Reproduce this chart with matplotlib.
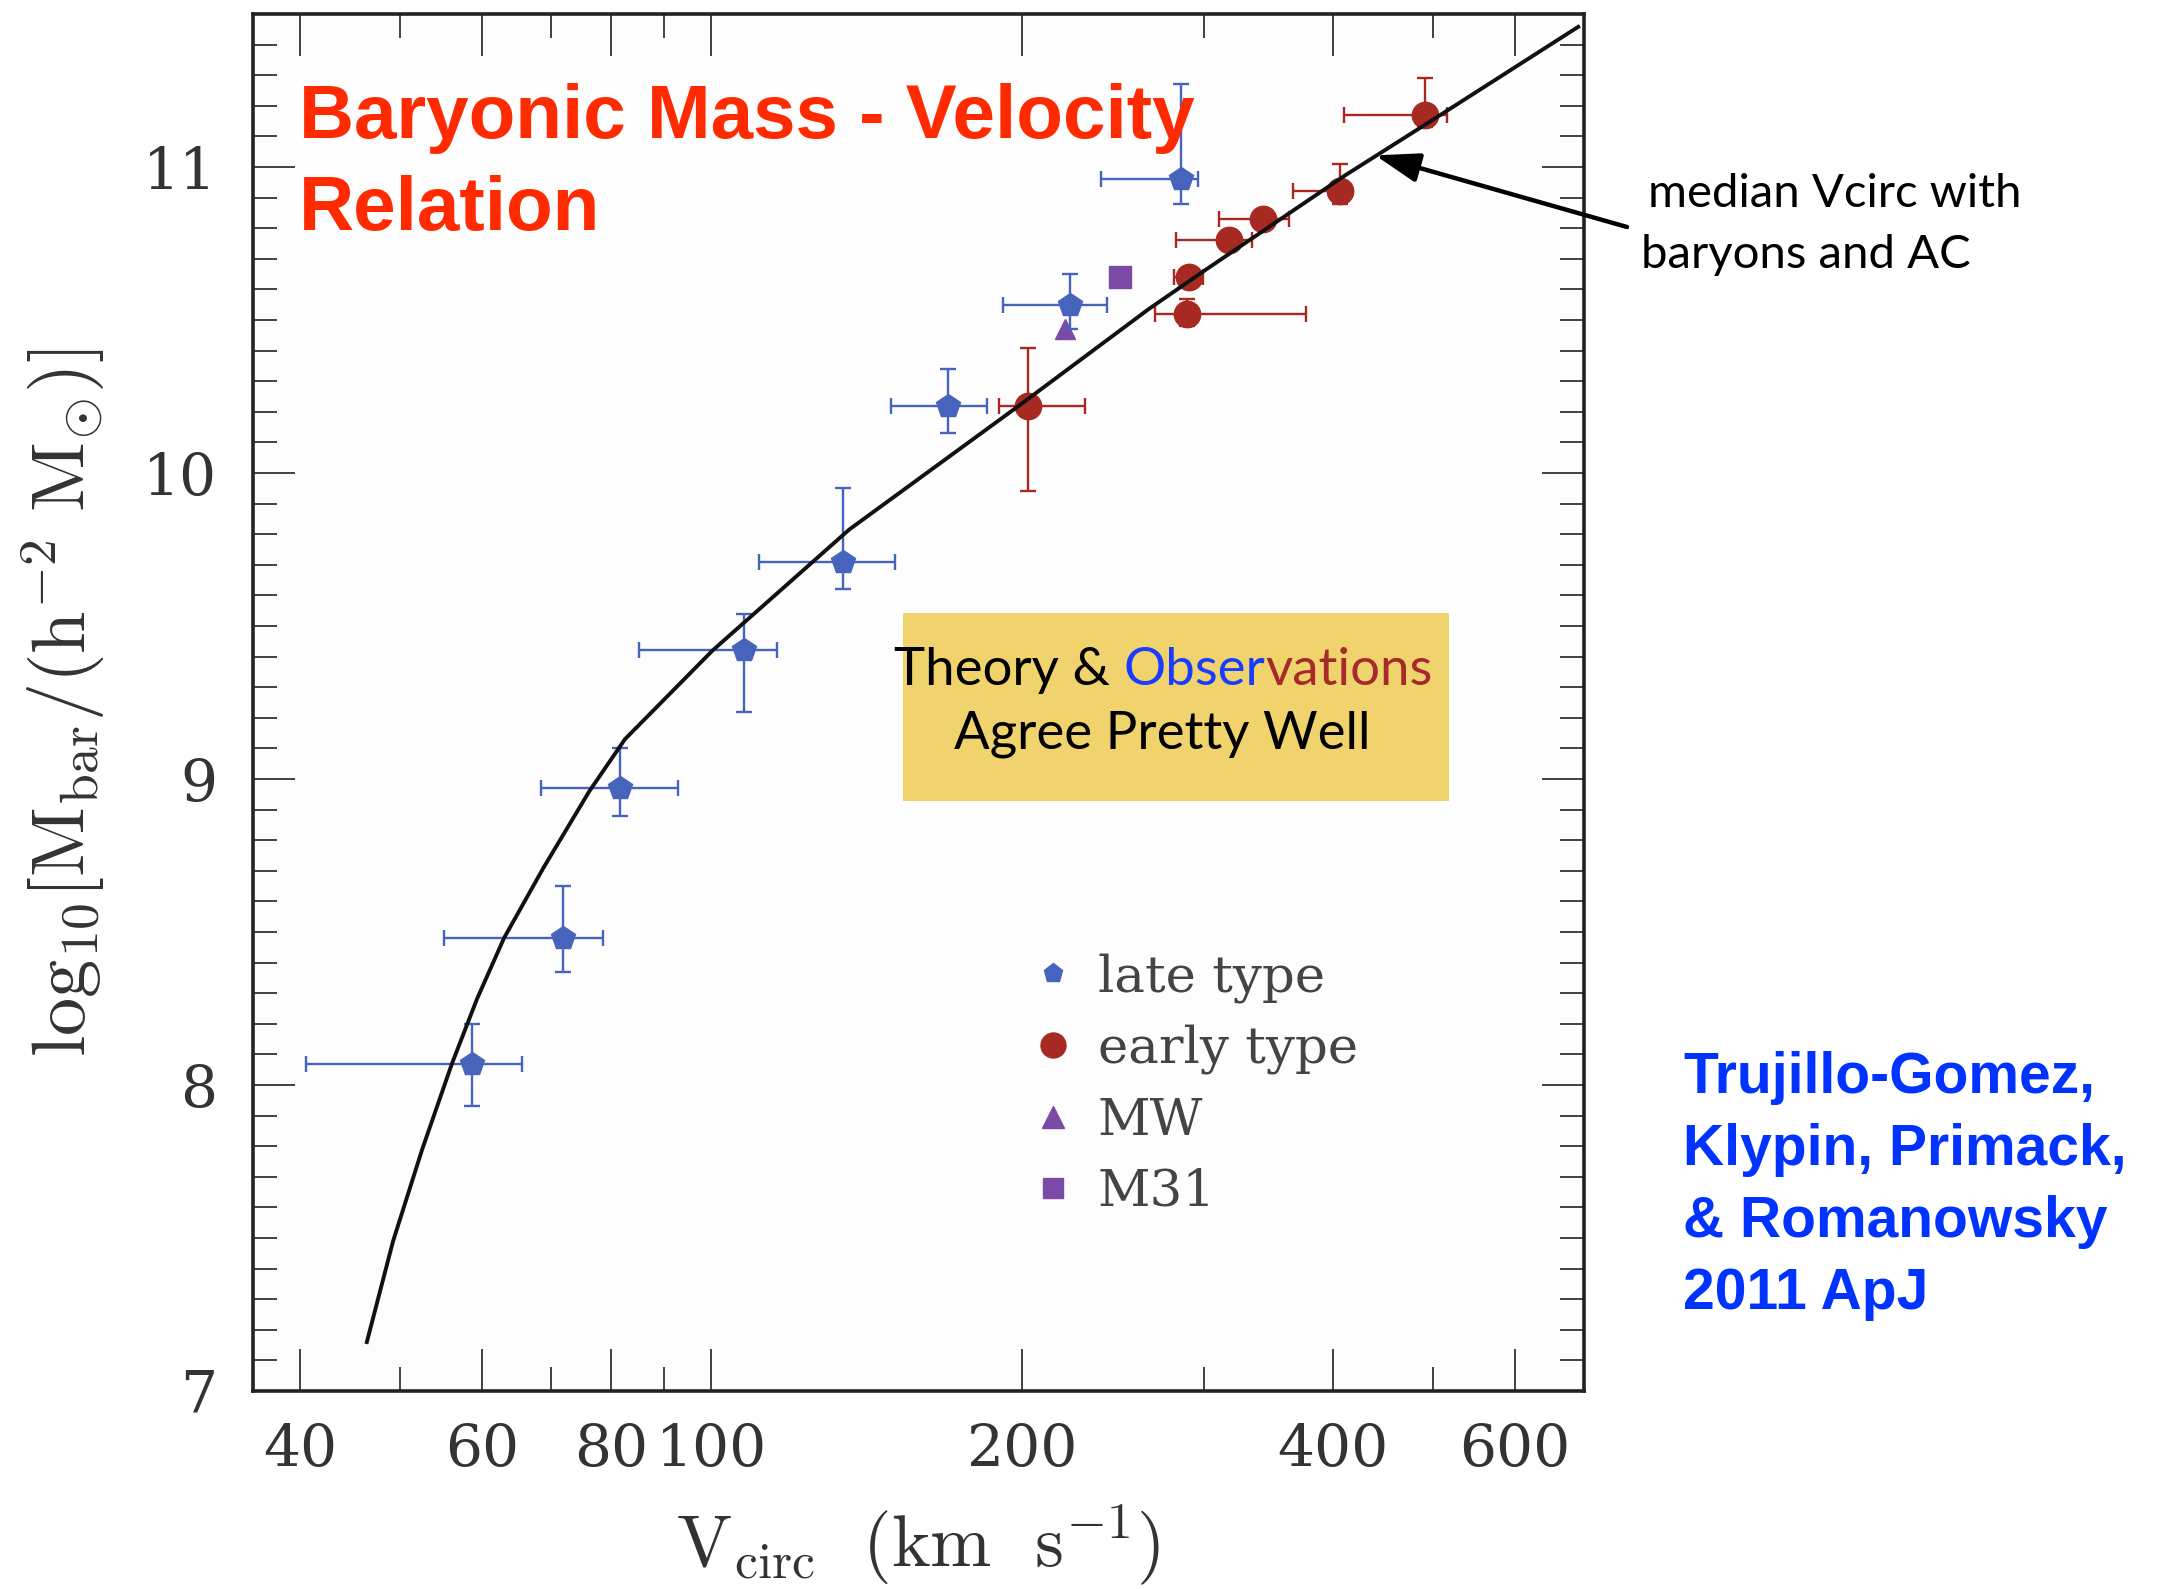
import numpy as np
import matplotlib
matplotlib.use("Agg")
import matplotlib.pyplot as plt
from matplotlib.lines import Line2D
from matplotlib.patches import Rectangle
from matplotlib.text import Annotation
from matplotlib.ticker import FixedLocator, FixedFormatter, NullFormatter

W, H = 2159, 1589

# theory curve: median Vcirc with baryons and AC
curve_v = [46.4, 49.2, 52.5, 56.1, 59.3, 63.0, 68.8, 76.2, 82.5, 100.3,
           136.0, 198.6, 265.3, 298.7, 411.1, 498.5, 691.0]
curve_m = [7.16, 7.49, 7.79, 8.07, 8.28, 8.48, 8.71, 8.96, 9.13, 9.42,
           9.815, 10.22, 10.536, 10.656, 10.973, 11.152, 11.458]

# late type galaxies
late_v    = [58.7, 71.9, 81.6, 107.5, 134.3, 169.6, 222.4, 285.3]
late_v_lo = [40.5, 55.1, 68.4, 85.1, 111.3, 149.2, 191.7, 238.7]
late_v_hi = [65.6, 78.6, 92.8, 115.7, 150.8, 185.1, 241.6, 295.9]
late_m    = [8.07, 8.48, 8.97, 9.42, 9.71, 10.22, 10.55, 10.96]
late_m_lo = [7.93, 8.37, 8.88, 9.22, 9.62, 10.13, 10.47, 10.88]
late_m_hi = [8.20, 8.65, 9.10, 9.54, 9.95, 10.34, 10.65, 11.27]

# early type galaxies
early_v    = [202.7, 289.1, 290.4, 316.9, 341.9, 406.4, 491.1]
early_v_lo = [190.0, 268.7, 280.7, 281.7, 310.4, 366.0, 410.1]
early_v_hi = [230.1, 377.0, 299.2, 334.1, 362.5, 416.5, 515.5]
early_m    = [10.22, 10.52, 10.64, 10.76, 10.83, 10.92, 11.17]
early_m_lo = [9.94, 10.48, 10.61, 10.74, 10.81, 10.88, 11.13]
early_m_hi = [10.41, 10.57, 10.67, 10.79, 10.85, 11.01, 11.29]

mw_v, mw_m = [220.1], [10.47]
m31_v, m31_m = [248.9], [10.64]

x_major = [40, 60, 80, 100, 200, 400, 600]
x_major_labels = ["40", "60", "80", "100", "200", "400", "600"]
x_minor = [50, 70, 90, 300, 500]
y_major = [7, 8, 9, 10, 11]

citation = ["Trujillo-Gomez,", "Klypin, Primack,", "& Romanowsky", "2011 ApJ"]

BLUE = "#4764bd"
RED = "#a62a22"
PURPLE = "#7b4aa6"


def px(x, y):
    return x / W, 1 - y / H


plt.rcParams["mathtext.fontset"] = "cm"

fig = plt.figure(figsize=(W / 100, H / 100), dpi=100)
fig.patch.set_facecolor("white")
ax = fig.add_axes([253 / W, 1 - 1391 / H, (1584 - 253) / W, (1391 - 14) / H])
ax.set_facecolor("#fdfdfd")

late_xerr = [np.subtract(late_v, late_v_lo), np.subtract(late_v_hi, late_v)]
late_yerr = [np.subtract(late_m, late_m_lo), np.subtract(late_m_hi, late_m)]
early_xerr = [np.subtract(early_v, early_v_lo), np.subtract(early_v_hi, early_v)]
early_yerr = [np.subtract(early_m, early_m_lo), np.subtract(early_m_hi, early_m)]

ax.errorbar(late_v, late_m, xerr=late_xerr, yerr=late_yerr, fmt="p", color=BLUE,
            ms=18, elinewidth=1.7, capsize=6, capthick=1.7, zorder=3)
ax.errorbar(early_v, early_m, xerr=early_xerr, yerr=early_yerr, fmt="o", color=RED,
            ms=19, elinewidth=1.7, capsize=6, capthick=1.7, zorder=3)
ax.plot(mw_v, mw_m, "^", color=PURPLE, ms=15, zorder=2)
ax.plot(m31_v, m31_m, "s", color=PURPLE, ms=16, zorder=3)
ax.plot(curve_v, curve_m, color="#111111", lw=2.8, zorder=4)

ax.set_xscale("log")
ax.set_xlim(36, 700)
ax.set_ylim(7, 11.5)

ax.xaxis.set_major_locator(FixedLocator(x_major))
ax.xaxis.set_major_formatter(FixedFormatter(x_major_labels))
ax.xaxis.set_minor_locator(FixedLocator(x_minor))
ax.xaxis.set_minor_formatter(NullFormatter())
ax.yaxis.set_major_locator(FixedLocator(y_major))
ax.yaxis.set_minor_locator(FixedLocator(np.arange(7, 11.51, 0.1)))

ax.tick_params(which="both", direction="in", top=True, right=True,
               colors="#222222", labelcolor="#333333")
ax.tick_params(which="major", length=30, width=1.2, labelsize=42)
ax.tick_params(which="minor", length=17, width=1.2)
ax.tick_params(axis="y", which="major", pad=26)
ax.tick_params(axis="x", which="major", pad=22)
for lab in ax.get_xticklabels() + ax.get_yticklabels():
    lab.set_family("DejaVu Serif")
for s in ax.spines.values():
    s.set_linewidth(2.6)
    s.set_color("#222222")

ax.set_xlabel(r"$\mathrm{V}_{\mathrm{circ}}\ \ (\mathrm{km\ \ s}^{-1})$",
              fontsize=53, color="#333333", labelpad=18)
ax.set_ylabel(r"$\mathrm{log}_{10}[\mathrm{M}_{\mathrm{bar}}/(\mathrm{h}^{-2}\ \mathrm{M}_{\odot})]$",
              fontsize=55, color="#333333", labelpad=26)

handles = [
    Line2D([], [], ls="none", marker="p", ms=14, color=BLUE),
    Line2D([], [], ls="none", marker="o", ms=18, color=RED),
    Line2D([], [], ls="none", marker="^", ms=16, color=PURPLE),
    Line2D([], [], ls="none", marker="s", ms=15, color=PURPLE),
]
leg = ax.legend(handles, ["late type", "early type", "MW", "M31"],
                loc="upper left", bbox_to_anchor=px(1032, 953),
                bbox_transform=fig.transFigure, frameon=False, borderpad=0,
                borderaxespad=0, handlelength=0.8, handletextpad=0.48,
                labelspacing=0.42, prop={"family": "DejaVu Serif", "size": 37})
for t in leg.get_texts():
    t.set_color("#444444")

# title inside the plot
fig.text(*px(299, 138), "Baryonic Mass - Velocity", color="#ff2a00", fontsize=55,
         fontweight="bold", family="Liberation Sans", va="baseline")
fig.text(*px(299, 230), "Relation", color="#ff2a00", fontsize=55,
         fontweight="bold", family="Liberation Sans", va="baseline")

# yellow box
fig.add_artist(Rectangle(px(903, 801), (1449 - 903) / W, (801 - 613) / H,
                         transform=fig.transFigure, facecolor="#f1d36e",
                         edgecolor="none", zorder=5))
t1 = fig.text(*px(894, 685), "Theory & ", color="black", fontsize=38,
              family="Lato", va="baseline", zorder=6)
t2 = Annotation("Obser", xy=(1, 0), xycoords=t1, va="bottom", ha="left",
                color="#1a3cff", fontsize=38, family="Lato", zorder=6)
fig.add_artist(t2)
t3 = Annotation("vations", xy=(1, 0), xycoords=t2, va="bottom", ha="left",
                color="#a52a2a", fontsize=38, family="Lato", zorder=6)
fig.add_artist(t3)
fig.text(*px(1162, 748), "Agree Pretty Well", color="black", fontsize=38,
         family="Lato", ha="center", va="baseline", zorder=6)

# arrow annotation
ax.annotate("", xy=(439.6, 11.038), xycoords="data",
            xytext=px(1627, 227), textcoords="figure fraction",
            arrowprops=dict(arrowstyle="-|>,head_length=0.9,head_width=0.3",
                            color="black", lw=3.2, mutation_scale=30,
                            shrinkA=0, shrinkB=0),
            annotation_clip=False)
fig.text(*px(1648, 207), "median Vcirc with", fontsize=34, family="Lato",
         va="baseline")
fig.text(*px(1641, 268), "baryons and AC", fontsize=34, family="Lato",
         va="baseline")

for i, line in enumerate(citation):
    fig.text(*px(1683, 1093 + 72 * i), line, color="#0033ff", fontsize=41,
             fontweight="bold", family="Liberation Sans", va="baseline")

fig.savefig("out.png", dpi=100)
